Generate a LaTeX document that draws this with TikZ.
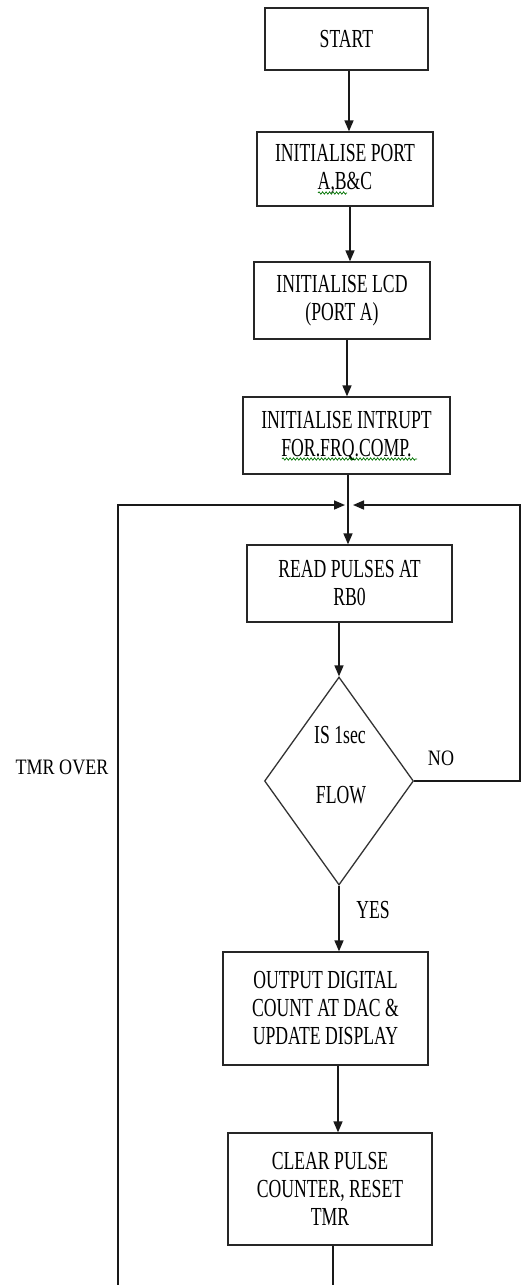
\documentclass[tikz,border=0pt]{standalone}
\usepackage{fontspec}
\newfontfamily\boxfont[FakeStretch=0.68]{Liberation Serif}
\newfontfamily\lblfont[FakeStretch=0.82]{Liberation Serif}
\usetikzlibrary{arrows.meta,shapes.geometric,decorations.pathmorphing}
\begin{document}
\begin{tikzpicture}[x=1pt,y=-1pt,
  stepbox/.style={draw=black!85,line width=1.3pt,rectangle,inner sep=0pt,align=center,
    font=\boxfont\fontsize{26}{28}\selectfont},
  decbox/.style={draw=black!80,line width=1.3pt,diamond,inner sep=0pt},
  txt/.style={inner sep=0pt,font=\boxfont\fontsize{26}{28}\selectfont},
  lbl/.style={inner sep=0pt,font=\lblfont\fontsize{22}{24}\selectfont},
  conn/.style={draw=black!90,line width=1.6pt},
  arr/.style={conn,-{Triangle[length=11pt,width=9pt]}},
  squig/.style={draw=green!45!black,line width=0.7pt,decorate,
    decoration={snake,amplitude=1.2pt,segment length=3.5pt}}
]
\useasboundingbox (0,0) rectangle (522,1285);
\fill[white] (0,0) rectangle (522,1285);

\node[stepbox,minimum width=163pt,minimum height=62pt] (start) at (346.5,39) {START};
\node[stepbox,minimum width=176pt,minimum height=74pt] (port) at (345,169) {INITIALISE PORT\\A,B\&C};
\node[stepbox,minimum width=176pt,minimum height=77pt] (lcd) at (342,300.5) {INITIALISE LCD\\(PORT A)};
\node[stepbox,minimum width=207pt,minimum height=77pt] (intr) at (346.5,435.5) {INITIALISE INTRUPT\\FOR.FRQ.COMP.};
\node[stepbox,minimum width=205pt,minimum height=77pt] (read) at (349.5,583.5) {READ PULSES AT\\RB0};
\node[decbox,minimum width=149pt,minimum height=208pt] (dec) at (339,781) {};
\node[txt] (q1) at (340,735) {IS 1sec};
\node[txt] (q2) at (341,795) {FLOW};
\node[stepbox,minimum width=205pt,minimum height=113pt] (out) at (325.5,1008.5) {OUTPUT DIGITAL\\COUNT AT DAC \&\\UPDATE DISPLAY};
\node[stepbox,minimum width=204pt,minimum height=112pt] (clr) at (330,1189) {CLEAR PULSE\\COUNTER, RESET\\TMR};

\node[lbl] (no) at (441,758) {NO};
\node[txt] (yes) at (373,910) {YES};
\node[lbl] (tmr) at (62,767) {TMR OVER};

% spell-check squiggles
\coordinate (s1a) at (318,193); \coordinate (s1b) at (347,193);
\coordinate (s2a) at (282,459); \coordinate (s2b) at (417,459);
\path[squig] (s1a) -- (s1b);
\path[squig] (s2a) -- (s2b);

% junction and loop points
\coordinate (j) at (348,505);
\coordinate (jl) at (345,505);
\coordinate (jr) at (353,505);
\coordinate (lt) at (118,505);
\coordinate (lb) at (118,1285);
\coordinate (rt) at (520,505);
\coordinate (cb) at (333,1285);

\draw[arr] (start.south -| 349,0) -- (port.north -| 349,0);
\draw[arr] (port.south -| 350,0) -- (lcd.north -| 350,0);
\draw[arr] (lcd.south -| 347,0) -- (intr.north -| 347,0);
\draw[conn] (intr.south -| j) -- (j);
\draw[arr] (j) -- (read.north -| j);
\draw[arr] (lb) -- (lt) -- (jl);
\draw[arr] (dec.east) -- (dec.east -| rt) -- (rt) -- (jr);
\draw[arr] (read.south -| dec.north) -- (dec.north);
\draw[arr] (dec.south) -- (dec.south |- out.north);
\draw[arr] (out.south -| 338,0) -- (clr.north -| 338,0);
\draw[conn] (clr.south -| cb) -- (cb);
\end{tikzpicture}
\end{document}
